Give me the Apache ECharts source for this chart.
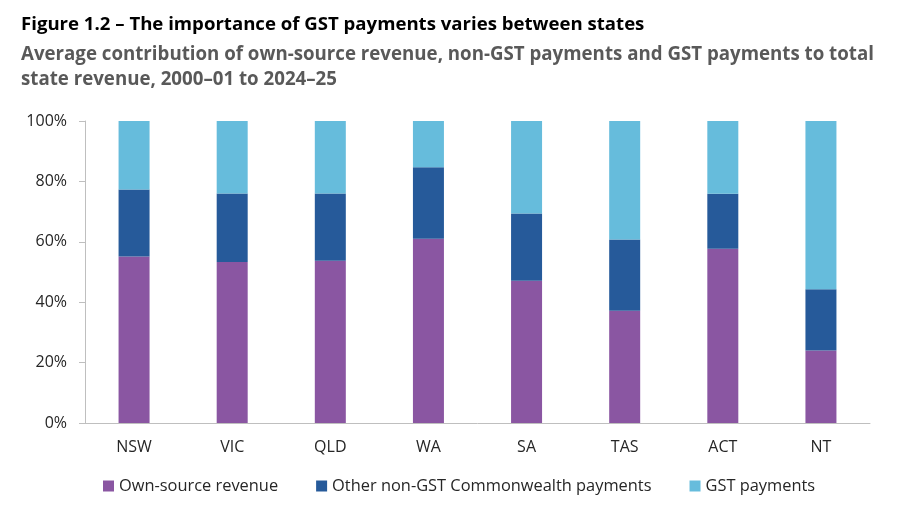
<!DOCTYPE html>
<html lang="en">
<head>
  <meta charset="UTF-8">
  <title>Figure 1.2</title>
  <script src="https://cdn.jsdelivr.net/npm/echarts@6/dist/echarts.min.js"></script>
  <style>
    html, body { margin: 0; padding: 0; background: #fff; }
  </style>
</head>
<body>
<div id="main" style="width: 901px;height:511px;"></div>
<script type="text/javascript">
  // 数据（读图估算，单位：%）
  var states = ['NSW', 'VIC', 'QLD', 'WA', 'SA', 'TAS', 'ACT', 'NT'];
  var ownSource = [55.1, 53.3, 53.7, 61.0, 47.1, 37.2, 57.7, 24.0];
  var nonGst = [22.2, 22.7, 22.3, 23.7, 22.3, 23.6, 18.2, 20.3];
  var gst = [22.7, 24.0, 24.0, 15.3, 30.6, 39.2, 24.1, 55.7];
  var seriesNames = ['Own-source revenue', 'Other non-GST Commonwealth payments', 'GST payments'];
  var colors = ['#8a56a2', '#265a9a', '#66bcdc'];

  var myChart = echarts.init(document.getElementById('main'));
  var font = 'Open Sans';

  myChart.setOption({
    animation: false,
    title: [{
      text: 'Figure 1.2 \u2013 The importance of GST payments varies between states',
      left: 16, top: 10,
      textStyle: { fontFamily: font, fontWeight: 'bold', fontSize: 18.6, color: '#000' }
    }, {
      text: 'Average contribution of own-source revenue, non-GST payments and GST payments to total\nstate revenue, 2000\u201301 to 2024\u201325',
      left: 16, top: 37,
      textStyle: { fontFamily: font, fontWeight: 'bold', fontSize: 18.7, color: '#595959', lineHeight: 25 }
    }],
    grid: { left: 85, right: 31, top: 121, bottom: 88 },
    legend: {
      left: 98, top: 473,
      icon: 'rect', itemWidth: 11, itemHeight: 11, itemGap: 38,
      textStyle: { fontFamily: font, fontSize: 16.4, color: '#262626' },
      data: seriesNames
    },
    xAxis: {
      type: 'category',
      data: states,
      axisTick: { show: false },
      axisLine: { lineStyle: { color: '#bfbfbf' } },
      axisLabel: { fontFamily: font, fontSize: 16, color: '#262626', margin: 16 }
    },
    yAxis: {
      type: 'value',
      min: 0, max: 100, interval: 20,
      axisLine: { show: true, lineStyle: { color: '#bfbfbf' } },
      axisTick: { show: true, length: 6, lineStyle: { color: '#bfbfbf' } },
      splitLine: { show: false },
      axisLabel: { formatter: '{value}%', fontFamily: font, fontSize: 16, color: '#262626', margin: 18 }
    },
    series: [
      { name: seriesNames[0], type: 'bar', stack: 'total', barWidth: 31, data: ownSource, itemStyle: { color: colors[0] } },
      { name: seriesNames[1], type: 'bar', stack: 'total', barWidth: 31, data: nonGst, itemStyle: { color: colors[1] } },
      { name: seriesNames[2], type: 'bar', stack: 'total', barWidth: 31, data: gst, itemStyle: { color: colors[2] } }
    ]
  });
</script>
</body>
</html>
